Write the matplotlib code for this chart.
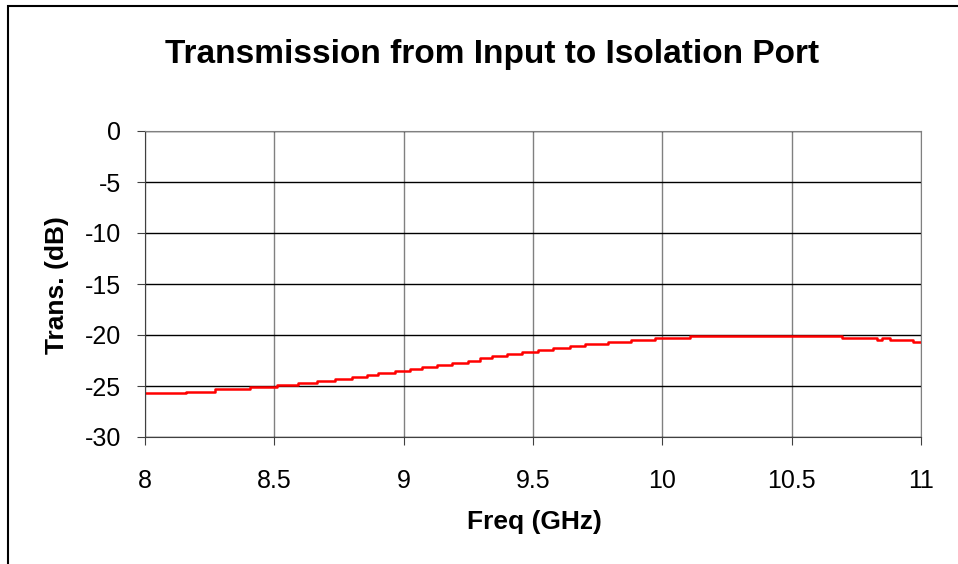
import matplotlib
matplotlib.use('Agg')
import matplotlib.pyplot as plt
from matplotlib.patches import Rectangle

plt.rcParams['font.family'] = ['Liberation Sans', 'DejaVu Sans']
plt.rcParams['axes.unicode_minus'] = False

# step breakpoints (GHz, dB)
freq = [8.0, 8.16, 8.27, 8.405, 8.51, 8.59, 8.665, 8.735, 8.80, 8.86, 8.90, 8.966,
        9.024, 9.07, 9.128, 9.187, 9.248, 9.295, 9.34, 9.40, 9.457, 9.52, 9.577,
        9.643, 9.70, 9.79, 9.88, 9.97, 10.107, 10.694, 10.83, 10.85, 10.88, 10.97, 11.0]
trans = [-25.7, -25.55, -25.3, -25.1, -24.9, -24.7, -24.5, -24.3, -24.1, -23.9, -23.75, -23.5,
         -23.3, -23.1, -22.9, -22.7, -22.5, -22.3, -22.1, -21.9, -21.7, -21.5, -21.3,
         -21.1, -20.9, -20.7, -20.5, -20.3, -20.07, -20.3, -20.5, -20.3, -20.5, -20.7, -20.7]

xticks = [8, 8.5, 9, 9.5, 10, 10.5, 11]
xlabels = ['8', '8.5', '9', '9.5', '10', '10.5', '11']
yticks = [0, -5, -10, -15, -20, -25, -30]

fig = plt.figure(figsize=(9.58, 5.64), dpi=100)
fig.patches.append(Rectangle((8/958, -0.1), 1.2, 1 - 6/564 + 0.1, transform=fig.transFigure,
                             fill=False, edgecolor='black', lw=1.5))
ax = fig.add_axes([145/958, 127/564, 776/958, 306/564])

ax.step(freq, trans, where='post', color='#ff0000', lw=1.8)

ax.set_xlim(8, 11)
ax.set_ylim(-30, 0)
ax.set_xticks(xticks)
ax.set_xticklabels(xlabels)
ax.set_yticks(yticks)
ax.yaxis.grid(True, color='black', lw=1)
ax.xaxis.grid(True, color='#808080', lw=1)
ax.set_axisbelow(True)
for s in ax.spines.values():
    s.set_color('#808080')
ax.spines['bottom'].set_color('#404040')
ax.spines['left'].set_color('#404040')
ax.tick_params(direction='out', length=6, color='#404040', labelsize=18)
ax.tick_params(axis='x', pad=17)
ax.tick_params(axis='y', pad=11)

fig.text(534/958, 1 - 522/564, 'Freq (GHz)', ha='center', va='center',
         fontsize=19, fontweight='bold')
fig.text(57/958, 1 - 285/564, 'Trans. (dB)', ha='center', va='center',
         rotation=90, fontsize=19, fontweight='bold')
fig.text(492/958, 1 - 55/564, 'Transmission from Input to Isolation Port',
         ha='center', va='center', fontsize=24, fontweight='bold')

fig.savefig('out.png', dpi=100)
